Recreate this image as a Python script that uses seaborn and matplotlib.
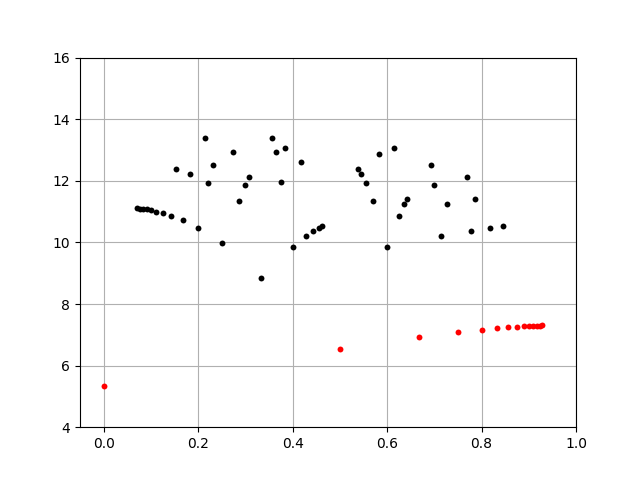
import matplotlib
matplotlib.use("Agg")
import matplotlib.pyplot as plt
import seaborn as sns
import pandas as pd

# black points
black_x = [0.071, 0.077, 0.083, 0.091, 0.100, 0.111, 0.125, 0.143, 0.167,
           0.200, 0.250, 0.333, 0.400, 0.429, 0.444, 0.455, 0.462,
           0.214, 0.231, 0.222, 0.273, 0.286, 0.300, 0.308, 0.154, 0.182,
           0.357, 0.364, 0.385, 0.417, 0.375,
           0.538, 0.545, 0.556, 0.571, 0.583, 0.615, 0.600, 0.625, 0.636, 0.643,
           0.692, 0.769, 0.700, 0.727, 0.786, 0.714, 0.778, 0.818, 0.846]
black_y = [11.11, 11.10, 11.09, 11.08, 11.05, 10.99, 10.95, 10.86, 10.72,
           10.46, 9.97, 8.84, 9.84, 10.20, 10.36, 10.46, 10.54,
           13.39, 12.51, 11.93, 12.93, 11.35, 11.86, 12.12, 12.38, 12.23,
           13.39, 12.93, 13.06, 12.61, 11.96,
           12.38, 12.22, 11.92, 11.34, 12.87, 13.06, 9.84, 10.85, 11.24, 11.40,
           12.51, 12.12, 11.86, 11.24, 11.40, 10.20, 10.36, 10.46, 10.53]

# red points
red_x = [0.0, 0.5, 0.667, 0.75, 0.8, 0.833, 0.857, 0.875, 0.889, 0.9, 0.909,
         0.917, 0.923, 0.929]
red_y = [5.33, 6.53, 6.92, 7.08, 7.15, 7.21, 7.24, 7.26, 7.28, 7.29, 7.29,
         7.30, 7.30, 7.31]

fig, ax = plt.subplots(figsize=(6.4, 4.8), dpi=100)
ax.grid(True, zorder=0)
ax.set_axisbelow(True)
sns.scatterplot(x=black_x, y=black_y, color="black", s=18, linewidth=0, ax=ax, zorder=3)
sns.scatterplot(x=red_x, y=red_y, color="red", s=18, linewidth=0, ax=ax, zorder=3)
ax.set_xlim(-0.05, 1.0)
ax.set_ylim(4, 16)
ax.set_xticks([0.0, 0.2, 0.4, 0.6, 0.8, 1.0])
ax.set_yticks([4, 6, 8, 10, 12, 14, 16])
fig.savefig("out.png", dpi=100)
